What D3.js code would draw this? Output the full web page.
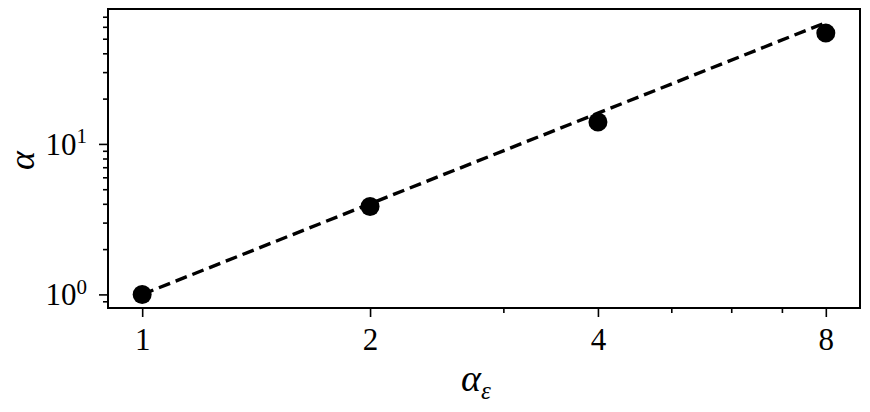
<!DOCTYPE html>
<html>
<head>
<meta charset="utf-8">
<script src="https://cdn.jsdelivr.net/npm/d3@7"></script>
<style>
  body { margin: 0; background: #fff; }
  svg text { font-family: "Liberation Serif", serif; fill: #000; }
</style>
</head>
<body>
<div id="chart"></div>
<script>
// data
const alphaEps = [1, 2, 4, 8]
const alphaMeasured = [1, 3.84, 14.0, 54.5]
const alphaFit = [1, 4, 16, 64]

const xTicks = [1, 2, 4, 8]
const xMinor = [3, 5, 6, 7]
const yTicks = [1, 10]
const yTickLabels = ["0", "1"]
const yMinor = [0.9, 2, 3, 4, 5, 6, 7, 8, 9, 20, 30, 40, 50, 60, 70]

// const
const width = 870
const height = 412
const margin = { top: 9, bottom: 104, left: 108, right: 10 }
const innerW = width - margin.left - margin.right
const innerH = height - margin.top - margin.bottom

const svg = d3.select("#chart").append("svg")
    .attr("width", width)
    .attr("height", height)

const g = svg.append("g").attr("transform", `translate(${margin.left},${margin.top})`)

// log margins like matplotlib (5% each side in log space)
const lx = [Math.log2(1), Math.log2(8)]
const px = (lx[1] - lx[0]) * 0.05
const x = d3.scaleLog().base(2)
    .domain([Math.pow(2, lx[0] - px), Math.pow(2, lx[1] + px)])
    .range([0, innerW])

const ly = [Math.log10(d3.min(alphaMeasured.concat(alphaFit))), Math.log10(d3.max(alphaMeasured.concat(alphaFit)))]
const py = (ly[1] - ly[0]) * 0.05
const y = d3.scaleLog()
    .domain([Math.pow(10, ly[0] - py), Math.pow(10, ly[1] + py)])
    .range([innerH, 0])

// axes
const xAxis = d3.axisBottom(x).tickValues(xTicks).tickFormat(d3.format("d")).tickSize(9).tickSizeOuter(0).tickPadding(8)
const xAxisMinor = d3.axisBottom(x).tickValues(xMinor).tickFormat("").tickSize(5).tickSizeOuter(0)
const yAxis = d3.axisLeft(y).tickValues(yTicks).tickFormat("").tickSize(9).tickSizeOuter(0)
const yAxisMinor = d3.axisLeft(y).tickValues(yMinor).tickFormat("").tickSize(5).tickSizeOuter(0)

const xg = g.append("g").attr("transform", `translate(0,${innerH})`).call(xAxis)
g.append("g").attr("transform", `translate(0,${innerH})`).call(xAxisMinor)
const yg = g.append("g").call(yAxis)
g.append("g").call(yAxisMinor)

g.selectAll(".domain").remove()
g.selectAll(".tick line").attr("stroke", "#000").attr("stroke-width", 1.6)
xg.selectAll(".tick text")
    .style("font-size", "31px")
    .style("font-family", "'Liberation Serif', serif")
    .attr("dy", "0.8em")

// y tick labels 10^n
yg.selectAll(".tick").each(function(d, i) {
  const t = d3.select(this).append("text")
      .attr("x", -21)
      .attr("dy", "0.33em")
      .attr("text-anchor", "end")
      .style("font-size", "31px")
      .style("font-family", "'Liberation Serif', serif")
  t.append("tspan").text("10")
  t.append("tspan").style("font-size", "21px").attr("dy", "-0.55em").text(yTickLabels[i])
})

// frame
g.append("rect")
    .attr("width", innerW)
    .attr("height", innerH)
    .attr("fill", "none")
    .attr("stroke", "#000")
    .attr("stroke-width", 2)

// fit line
const fitData = alphaEps.map((d, i) => ({ x: d, y: alphaFit[i] }))
g.append("path")
    .datum(fitData)
    .attr("fill", "none")
    .attr("stroke", "#000")
    .attr("stroke-width", 3.4)
    .attr("stroke-dasharray", "12,6")
    .attr("d", d3.line().x(d => x(d.x)).y(d => y(d.y)))

// points
g.selectAll("circle.pt")
    .data(alphaEps.map((d, i) => ({ x: d, y: alphaMeasured[i] })))
    .join("circle")
    .attr("class", "pt")
    .attr("cx", d => x(d.x))
    .attr("cy", d => y(d.y))
    .attr("r", 9.5)
    .attr("fill", "#000")

// axis labels
const xl = svg.append("text")
    .attr("x", margin.left + innerW / 2 - 8)
    .attr("y", 391)
    .attr("text-anchor", "middle")
    .style("font-size", "38px")
    .style("font-style", "italic")
xl.append("tspan").text("α")
xl.append("tspan").style("font-size", "25px").attr("dy", 8).text("ε")

svg.append("text")
    .attr("transform", `translate(34,${margin.top + innerH / 2 + 2}) rotate(-90)`)
    .attr("text-anchor", "middle")
    .style("font-size", "36px")
    .style("font-style", "italic")
    .text("α")
</script>
</body>
</html>
